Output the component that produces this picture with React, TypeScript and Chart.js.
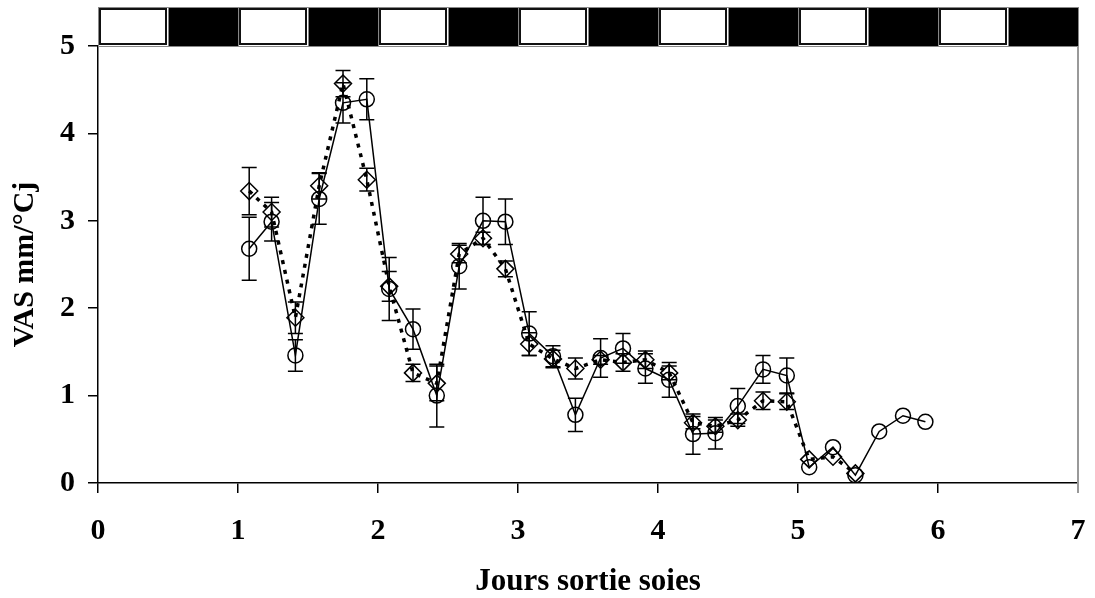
import React, { useEffect, useRef } from 'react';
import { Chart, registerables } from 'chart.js';

Chart.register(...registerables);

// Time after silk emergence (days)
const jours = [
  1.08, 1.24, 1.41, 1.58, 1.75, 1.92, 2.08, 2.25, 2.42, 2.58,
  2.75, 2.91, 3.08, 3.25, 3.41, 3.59, 3.75, 3.91, 4.08, 4.25,
  4.41, 4.57, 4.75, 4.92, 5.08, 5.25, 5.41, 5.58, 5.75, 5.91,
];

// Silk elongation rate, solid line with circles
const vasCercles = [
  2.68, 2.99, 1.46, 3.25, 4.35, 4.39, 2.22, 1.76, 1.0, 2.48,
  3.0, 2.99, 1.71, 1.45, 0.78, 1.43, 1.54, 1.31, 1.18, 0.56,
  0.57, 0.88, 1.3, 1.23, 0.18, 0.41, 0.09, 0.59, 0.77, 0.7,
];
const erreurCercles = [
  0.36, 0.22, 0.18, 0.29, 0.23, 0.235, 0.36, 0.23, 0.36, 0.26,
  0.27, 0.26, 0.25, 0.12, 0.19, 0.22, 0.17, 0.17, 0.2, 0.23,
  0.18, 0.2, 0.16, 0.2, 0, 0, 0, 0, 0, 0,
];

// Silk elongation rate, dotted line with diamonds
const vasLosanges = [
  3.34, 3.1, 1.89, 3.4, 4.57, 3.47, 2.25, 1.26, 1.14, 2.62,
  2.8, 2.45, 1.59, 1.42, 1.31, 1.41, 1.38, 1.41, 1.26, 0.69,
  0.65, 0.72, 0.94, 0.93, 0.27, 0.3, 0.11,
];
const erreurLosanges = [
  0.27, 0.17, 0.18, 0.15, 0.15, 0.13, 0.17, 0.1, 0.2, 0.1,
  0.07, 0.09, 0.13, 0.1, 0.12, 0.05, 0.1, 0.1, 0.08, 0.07,
  0.07, 0.07, 0.1, 0.09, 0, 0, 0,
];

// Light / dark periods, half a day each, across the x range
const photoperiode = [
  'jour', 'nuit', 'jour', 'nuit', 'jour', 'nuit', 'jour',
  'nuit', 'jour', 'nuit', 'jour', 'nuit', 'jour', 'nuit',
];

const POLICE = '"Liberation Serif", "Times New Roman", serif';

const barresErreur = {
  id: 'barresErreur',
  afterDatasetsDraw(chart: any) {
    const { ctx } = chart;
    const xs = chart.scales.x;
    const ys = chart.scales.y;
    const series = [
      { y: vasCercles, e: erreurCercles },
      { y: vasLosanges, e: erreurLosanges },
    ];
    ctx.save();
    ctx.strokeStyle = '#000';
    ctx.lineWidth = 1.5;
    series.forEach((s) => {
      s.y.forEach((v, i) => {
        const err = s.e[i];
        if (!err) return;
        const px = xs.getPixelForValue(jours[i]);
        const top = ys.getPixelForValue(v + err);
        const bot = ys.getPixelForValue(v - err);
        const cap = 7.5;
        ctx.beginPath();
        ctx.moveTo(px, top);
        ctx.lineTo(px, bot);
        ctx.moveTo(px - cap, top);
        ctx.lineTo(px + cap, top);
        ctx.moveTo(px - cap, bot);
        ctx.lineTo(px + cap, bot);
        ctx.stroke();
      });
    });
    ctx.restore();
  },
};

const bandeauPhotoperiode = {
  id: 'bandeauPhotoperiode',
  afterDraw(chart: any) {
    const { ctx, chartArea } = chart;
    const xs = chart.scales.x;
    const bas = chartArea.top;
    const haut = 7;
    ctx.save();
    photoperiode.forEach((p, i) => {
      const x0 = xs.getPixelForValue(i * 0.5);
      const x1 = xs.getPixelForValue((i + 1) * 0.5);
      if (p === 'nuit') {
        ctx.fillStyle = '#000';
        ctx.fillRect(x0, haut, x1 - x0, bas - haut);
      } else {
        ctx.fillStyle = '#fff';
        ctx.fillRect(x0, haut, x1 - x0, bas - haut);
        ctx.strokeStyle = '#111';
        ctx.lineWidth = 2;
        ctx.strokeRect(x0 + 2, haut + 2, x1 - x0 - 4, bas - haut - 4);
      }
    });
    ctx.strokeStyle = '#888';
    ctx.lineWidth = 1;
    photoperiode.forEach((_, i) => {
      const x0 = xs.getPixelForValue(i * 0.5);
      ctx.beginPath();
      ctx.moveTo(x0 + 0.5, haut);
      ctx.lineTo(x0 + 0.5, bas);
      ctx.stroke();
    });
    ctx.strokeRect(chartArea.left + 0.5, haut + 0.5, chartArea.right - chartArea.left, bas - haut);
    // right frame of the plot area
    ctx.strokeStyle = '#999';
    ctx.lineWidth = 2;
    ctx.beginPath();
    ctx.moveTo(chartArea.right, bas);
    ctx.lineTo(chartArea.right, chartArea.bottom + 10);
    ctx.stroke();
    ctx.restore();
  },
};

export default function App() {
  const ref = useRef<HTMLCanvasElement | null>(null);

  useEffect(() => {
    document.body.style.margin = '0';
    if (!ref.current) return;
    const chart = new Chart(ref.current, {
      type: 'line',
      data: {
        datasets: [
          {
            label: 'cercles',
            data: jours.map((x, i) => ({ x, y: vasCercles[i] })),
            borderColor: '#000',
            borderWidth: 1.5,
            backgroundColor: 'rgba(0,0,0,0)',
            pointStyle: 'circle',
            pointRadius: 7.5,
            pointBorderWidth: 1.5,
            pointBorderColor: '#000',
            pointBackgroundColor: 'rgba(0,0,0,0)',
            tension: 0,
          },
          {
            label: 'losanges',
            data: vasLosanges.map((y, i) => ({ x: jours[i], y })),
            borderColor: '#000',
            borderWidth: 3.5,
            borderDash: [4, 6],
            backgroundColor: 'rgba(0,0,0,0)',
            pointStyle: 'rectRot',
            pointRadius: 8.5,
            pointBorderWidth: 1.5,
            pointBorderColor: '#000',
            pointBackgroundColor: 'rgba(0,0,0,0)',
            tension: 0,
          },
        ],
      },
      options: {
        responsive: false,
        animation: false,
        layout: { padding: { top: 46, right: 17, left: 0, bottom: 0 } },
        plugins: {
          legend: { display: false },
          tooltip: { enabled: false },
        },
        scales: {
          x: {
            type: 'linear',
            min: 0,
            max: 7,
            ticks: {
              stepSize: 1,
              color: '#000',
              padding: 20,
              font: { family: POLICE, size: 30, weight: 'bold' },
            },
            grid: {
              drawOnChartArea: false,
              drawTicks: true,
              tickLength: 10,
              color: '#000',
              lineWidth: 1.5,
            },
            border: { display: true, color: '#000', width: 1.5 },
            title: {
              display: true,
              text: 'Jours sortie soies',
              color: '#000',
              font: { family: POLICE, size: 31, weight: 'bold', lineHeight: 1 },
              padding: { top: 0, bottom: 1 },
            },
            afterFit: (s: any) => {
              s.height = 115;
              s.paddingLeft = 0;
              s.paddingRight = 0;
            },
          },
          y: {
            type: 'linear',
            min: 0,
            max: 5,
            ticks: {
              stepSize: 1,
              color: '#000',
              padding: 13,
              font: { family: POLICE, size: 30, weight: 'bold' },
            },
            grid: {
              drawOnChartArea: false,
              drawTicks: true,
              tickLength: 10,
              color: '#000',
              lineWidth: 1.5,
            },
            border: { display: true, color: '#000', width: 1.5 },
            title: {
              display: true,
              text: 'VAS mm/°Cj',
              color: '#000',
              font: { family: POLICE, size: 30, weight: 'bold', lineHeight: 1 },
              padding: { top: 10, bottom: 0 },
            },
            afterFit: (s: any) => {
              s.width = 98;
              s.paddingTop = 0;
              s.paddingBottom = 0;
            },
          },
        },
      },
      plugins: [barresErreur, bandeauPhotoperiode],
    } as any);
    return () => chart.destroy();
  }, []);

  return (
    <div style={{ width: 1095, height: 598 }}>
      <canvas ref={ref} width={1095} height={598} style={{ display: 'block' }} />
    </div>
  );
}
